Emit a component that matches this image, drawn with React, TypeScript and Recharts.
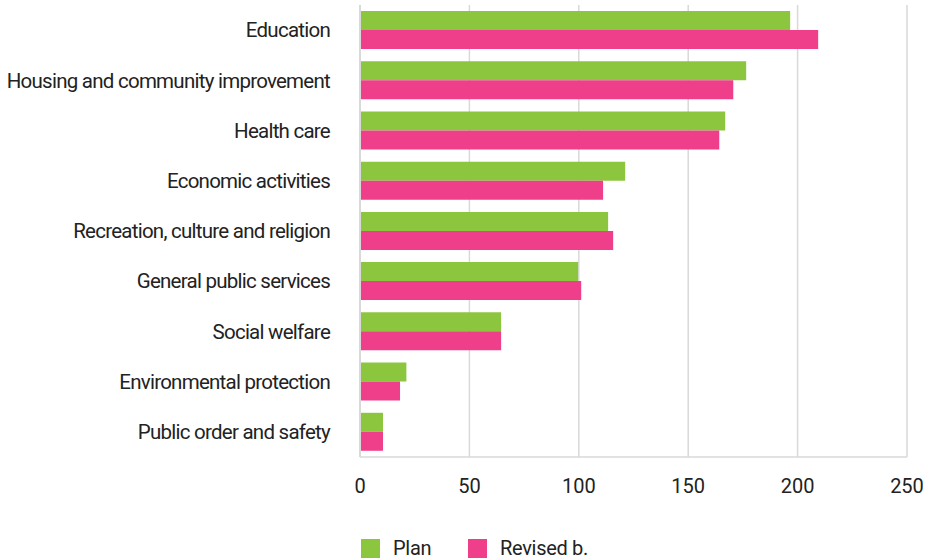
import { Bar, BarChart, CartesianGrid, Legend, XAxis, YAxis } from "recharts";

const CATEGORIES = [
  "Education",
  "Housing and community improvement",
  "Health care",
  "Economic activities",
  "Recreation, culture and religion",
  "General public services",
  "Social welfare",
  "Environmental protection",
  "Public order and safety",
];
const PLAN = [196.6, 176.5, 166.9, 121.2, 113.4, 99.7, 64.5, 21.2, 10.5];
const REVISED = [209.4, 170.6, 164.2, 111.1, 115.7, 101.1, 64.5, 18.3, 10.5];
const X_TICKS = [0, 50, 100, 150, 200, 250];

const COLORS = { plan: "#8cc63f", revised: "#ef3f8a" };
const FONT = "Roboto, sans-serif";
const TEXT = "#222222";
const GRID = "#d9d9d9";

const data = CATEGORIES.map((name, i) => ({
  name,
  plan: PLAN[i],
  revised: REVISED[i],
}));

function LegendBox() {
  const items = [
    { label: "Plan", color: COLORS.plan, width: 107 },
    { label: "Revised b.", color: COLORS.revised, width: 140 },
  ];
  return (
    <div style={{ display: "flex", fontFamily: FONT, fontSize: 20, color: TEXT }}>
      {items.map((it) => (
        <div
          key={it.label}
          style={{ display: "flex", alignItems: "center", width: it.width, letterSpacing: -0.3 }}
        >
          <span
            style={{ width: 19, height: 19, background: it.color, marginRight: 13, display: "inline-block" }}
          />
          {it.label}
        </div>
      ))}
    </div>
  );
}

export default function App() {
  return (
    <div style={{ position: "absolute", left: 0, top: 0, background: "#fff" }}>
      <BarChart
        width={927}
        height={560}
        data={data}
        layout="vertical"
        margin={{ top: 5, right: 20, left: 10, bottom: 53 }}
        barSize={19}
        barGap={0}
      >
        <CartesianGrid horizontal={false} stroke={GRID} strokeWidth={1.5} />
        <XAxis
          type="number"
          domain={[0, 250]}
          ticks={X_TICKS}
          height={50}
          tickSize={0}
          tickMargin={22}
          tickLine={false}
          axisLine={{ stroke: GRID, strokeWidth: 1.5 }}
          tick={{ fill: TEXT, fontSize: 20, fontFamily: FONT }}
        />
        <YAxis
          type="category"
          dataKey="name"
          width={350}
          tickSize={0}
          tickMargin={30}
          tickLine={false}
          interval={0}
          axisLine={{ stroke: GRID, strokeWidth: 2 }}
          tick={{ fill: TEXT, fontSize: 20.5, fontFamily: FONT, letterSpacing: -0.75 }}
        />
        <Legend
          layout="vertical"
          align="center"
          verticalAlign="middle"
          content={() => <LegendBox />}
          wrapperStyle={{ position: "absolute", left: 361, top: 536, width: 400 }}
        />
        <Bar dataKey="plan" name="Plan" fill={COLORS.plan} isAnimationActive={false} />
        <Bar dataKey="revised" name="Revised b." fill={COLORS.revised} isAnimationActive={false} />
      </BarChart>
    </div>
  );
}
